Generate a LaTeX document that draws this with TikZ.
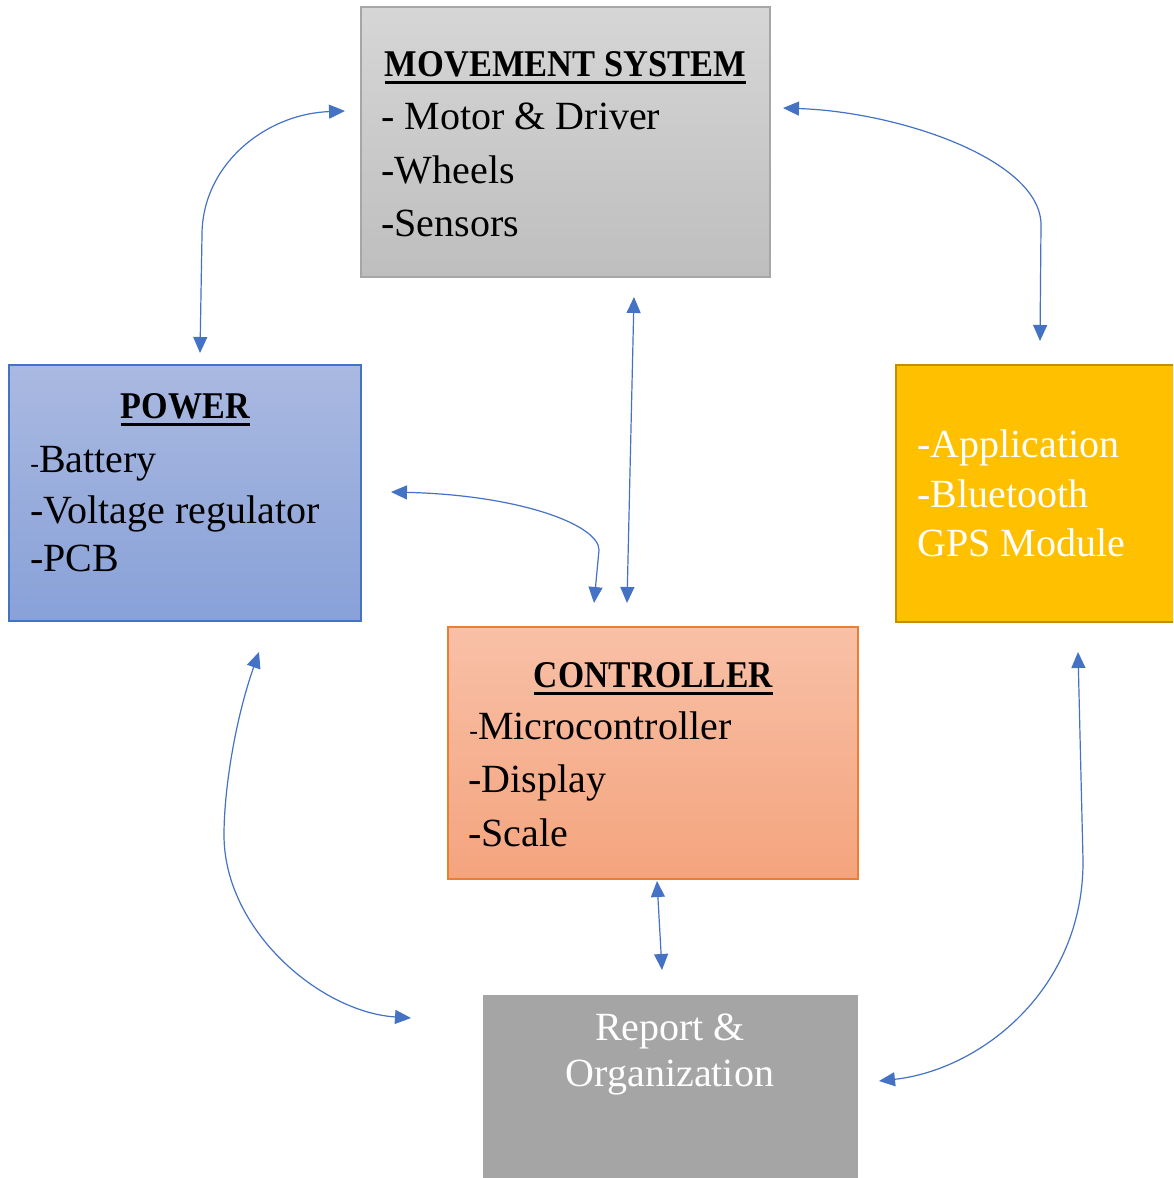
\documentclass[tikz,border=0pt]{standalone}
\usepackage{fontspec}
\usepackage{graphicx}
\setmainfont{Liberation Serif}
\usetikzlibrary{arrows.meta}
\definecolor{arrowblue}{HTML}{4472C4}
\definecolor{mvtop}{HTML}{D6D6D6}
\definecolor{mvbot}{HTML}{BEBEBE}
\definecolor{mvline}{HTML}{A6A6A6}
\definecolor{pwtop}{HTML}{AAB9E1}
\definecolor{pwbot}{HTML}{88A1D8}
\definecolor{pwline}{HTML}{4472C4}
\definecolor{cttop}{HTML}{F8C0A7}
\definecolor{ctbot}{HTML}{F4A47D}
\definecolor{ctline}{HTML}{ED7D31}
\definecolor{appfill}{HTML}{FFC000}
\definecolor{appline}{HTML}{BF9000}
\definecolor{repfill}{HTML}{A5A5A5}
\newcommand\bfnt{\fontsize{20pt}{26pt}\selectfont}
\newcommand\smalldash{{\fontsize{13pt}{13pt}\selectfont -}}
\tikzset{
  boxnode/.style={rectangle, inner sep=0pt, line width=0.6pt},
  itemtext/.style={anchor=base west, inner sep=0pt, font=\bfnt},
  titletext/.style={anchor=base, inner sep=0pt, font=\bfseries},
  uline/.style={line width=1.5pt, black},
  conn/.style={draw=arrowblue, line width=0.6pt,
    {Triangle[length=8pt,width=7pt]}-{Triangle[length=8pt,width=7pt]}}
}
\begin{document}
\begin{tikzpicture}[x=0.5pt,y=-0.5pt]
\clip (0,0) rectangle (1173,1178);
\fill[white] (0,0) rectangle (1173,1178);

% boxes
\node[boxnode, draw=mvline, top color=mvtop, bottom color=mvbot,
  minimum width=204.5pt, minimum height=135pt] (move) at (565.5,142) {};
\node[boxnode, draw=pwline, top color=pwtop, bottom color=pwbot,
  minimum width=176pt, minimum height=128pt] (power) at (185,493) {};
\node[boxnode, draw=ctline, top color=cttop, bottom color=ctbot,
  minimum width=205pt, minimum height=126pt] (ctrl) at (653,753) {};
\node[boxnode, draw=appline, line width=1pt, fill=appfill,
  minimum width=142pt, minimum height=128.5pt] (app) at (1038,493.5) {};
\node[boxnode, fill=repfill,
  minimum width=187.5pt, minimum height=95pt] (rep) at (670.5,1090) {};

% titles
\node[titletext] (mvt) at (565.5,76) {\resizebox{180.5pt}{12.5pt}{MOVEMENT SYSTEM}};
\draw[uline] (mvt.south west) ++(0,6) -- ([yshift=-3pt]mvt.south east);
\node[titletext] (pwt) at (185.5,418) {\resizebox{64.5pt}{12.5pt}{POWER}};
\draw[uline] (pwt.south west) ++(0,6) -- ([yshift=-3pt]pwt.south east);
\node[titletext] (ctt) at (653.5,687) {\resizebox{119.5pt}{12.5pt}{CONTROLLER}};
\draw[uline] (ctt.south west) ++(0,6) -- ([yshift=-3pt]ctt.south east);

% movement items
\node[itemtext] (m1) at (381,129) {- Motor \& Driver};
\node[itemtext] (m2) at (381,183) {-Wheels};
\node[itemtext] (m3) at (381,236) {-Sensors};
% power items
\node[itemtext] (p1) at (30,472) {\smalldash Battery};
\node[itemtext] (p2) at (30,523) {-Voltage regulator};
\node[itemtext] (p3) at (30,571) {-PCB};
% controller items
\node[itemtext] (c1) at (469,739) {\smalldash Microcontroller};
\node[itemtext] (c2) at (468,792) {-Display};
\node[itemtext] (c3) at (468,846) {-Scale};
% app items
\node[itemtext, text=white] (a1) at (917,457) {-Application};
\node[itemtext, text=white] (a2) at (917,507) {-Bluetooth};
\node[itemtext, text=white] (a3) at (917,556) {GPS Module};
% report
\node[anchor=base, inner sep=0pt, font=\bfnt, text=white] (r1) at (670,1040) {Report \&};
\node[anchor=base, inner sep=0pt, font=\bfnt, text=white] (r2) at (670,1086) {Organization};

% connector end points
\coordinate (pwTop) at (200,353);
\coordinate (mvLeft) at (345,111);
\coordinate (mvRight) at (783,108);
\coordinate (appTop) at (1040,341);
\coordinate (mvBot) at (634,297);
\coordinate (ctTopR) at (627,603);
\coordinate (pwRight) at (391,492);
\coordinate (ctTopL) at (594,603);
\coordinate (pwBot) at (259,652);
\coordinate (repLeft) at (411,1018);
\coordinate (appBot) at (1078,652);
\coordinate (repRight) at (879,1081);
\coordinate (ctBot) at (657,881);
\coordinate (repTop) at (662,970);

% connectors
\draw[conn] (pwTop) -- (202,235) .. controls (202,165) and (265,114) .. (mvLeft);
\draw[conn] (mvRight) .. controls (900,112) and (1041,160) .. (1041,225) -- (appTop);
\draw[conn] (mvBot) -- (ctTopR);
\draw[conn] (pwRight) .. controls (520,495) and (599,525) .. (599,550) -- (ctTopL);
\draw[conn] (pwBot) .. controls (235,720) and (224,790) .. (224,835) .. controls (224,930) and (320,1012) .. (repLeft);
\draw[conn] (appBot) -- (1083,860) .. controls (1084,990) and (980,1070) .. (repRight);
\draw[conn] (ctBot) -- (repTop);
\end{tikzpicture}
\end{document}
